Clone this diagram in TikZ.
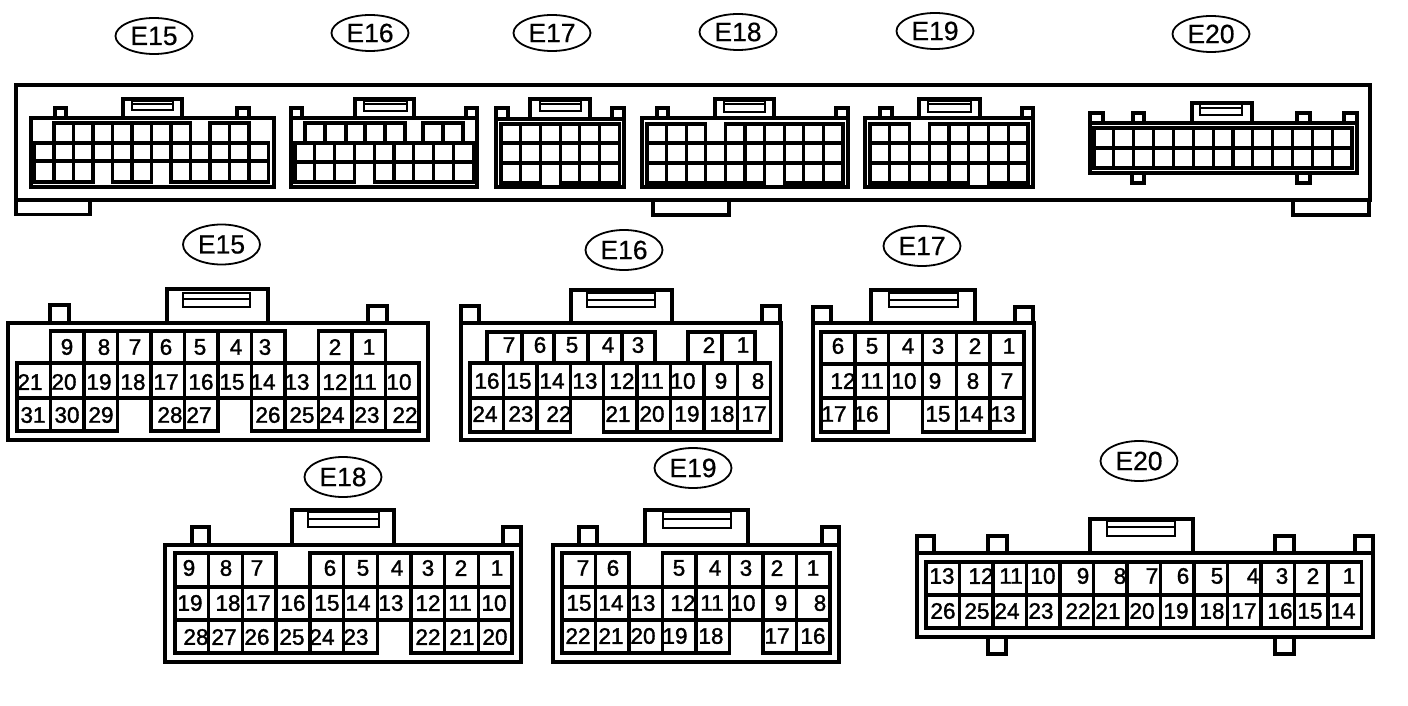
\documentclass[tikz,border=0pt]{standalone}
\usepackage{fontspec}
\setmainfont{Liberation Sans}
\newfontfamily\numfont[FakeBold=1.5]{Liberation Sans}
\newfontfamily\tagfont[FakeBold=0.5]{Liberation Sans}
\tikzset{
  num/.style={inner sep=0pt,font=\numfont\fontsize{22.5}{22.5}\selectfont},
  tag/.style={ellipse,draw=black,line width=1.8pt,inner sep=0pt,minimum width=77pt,minimum height=36pt,font=\tagfont\fontsize{26.5}{26.5}\selectfont},
  house/.style={draw=black,line width=3.4pt,line join=miter},
  cellb/.style={draw=black,line width=3.4pt},
  cellm/.style={draw=black,line width=3.2pt},
  slotb/.style={draw=black,line width=2.8pt},
  panel/.style={draw=black,line width=3.2pt},
}
\usetikzlibrary{shapes.geometric}
% cells: style, x0, pitch, ytop, ybot, list of columns
\newcommand\cellrun[6]{\foreach \c in {#6}{\draw[#1] ({#2+\c*#3},#4) rectangle ({#2+(\c+1)*#3},#5);}}
% explicit cell edges: style, ytop, ybot, list of xa/xb
\newcommand\celledge[4]{\foreach \a/\b in {#4}{\draw[#1] (\a,#2) rectangle (\b,#3);}}
% bump open at its base: x1,x2,ybase,ytop
\newcommand\bump[5][house]{\draw[#1] (#2,#4) -- (#2,#5) -- (#3,#5) -- (#3,#4);}
% slot: xa,xb,ytop,ymid,ybot
\newcommand\slotbox[6][slotb]{\draw[#1] (#2,#4) rectangle (#3,#6); \draw[#1] (#2,#5) -- (#3,#5);}
% labels: name prefix, y, list of x/text
\newcommand\labelrow[3]{\foreach \x/\t in {#3}{\node[num] (#1-\t) at (\x,#2) {\t};}}
\begin{document}
\begin{tikzpicture}[x=1pt,y=-1pt]
\useasboundingbox (0,0) rectangle (1408,706);
\fill[white] (0,0) rectangle (1408,706);

% ---- top panel
\draw[panel] (16,85) rectangle (1370,200);
\draw[panel] (16,200) -- (16,214.5) -- (90,214.5) -- (90,200);
\draw[panel] (653,200) -- (653,215) -- (729,215) -- (729,200);
\draw[panel] (1293,200) -- (1293,215) -- (1369,215) -- (1369,200);

% ---- top tags
\node[tag] (tE15) at (154,36) {E15};
\node[tag] (tE16) at (370,33) {E16};
\node[tag] (tE17) at (552,33) {E17};
\node[tag] (tE18) at (738,32) {E18};
\node[tag] (tE19) at (935,31) {E19};
\node[tag] (tE20) at (1211,34) {E20};

% ---- mini E15
\draw[house] (31,118) rectangle (274,187);
\bump{55}{66}{118}{108}\bump{237}{249}{118}{108}\bump{123}{182}{118}{99}
\slotbox{132}{173}{101}{104}{110}
\cellrun{cellm}{34.4}{19.5}{123}{143}{1,2,3,4,5,6,7,9,10}
\cellrun{cellm}{34.4}{19.5}{143}{161}{0,1,2,3,4,5,6,7,8,9,10,11}
\cellrun{cellm}{34.4}{19.5}{161}{182}{0,1,2,4,5,7,8,9,10,11}

% ---- mini E16
\draw[house] (291,118) rectangle (477,187);
\bump{291}{302}{118}{108}\bump{466}{477}{118}{108}\bump{355}{414}{118}{99}
\slotbox{364}{407}{101}{104}{111}
\celledge{cellm}{123}{143}{305/325,325/346,346/365,365/385,385/405,423/443,443/463}
\cellrun{cellm}{295}{19.8}{143}{162}{0,1,2,3,4,5,6,7,8}
\cellrun{cellm}{295}{19.8}{162}{182}{0,1,2,4,5,6,7,8}

% ---- mini E17
\draw[house] (496,119) rectangle (624,187);
\bump{496}{508}{119}{108}\bump{612}{624}{119}{108}\bump{530}{590}{119}{99}
\slotbox{540}{581}{101}{104}{111}
\cellrun{cellm}{501}{19.7}{124}{143}{0,1,2,3,4,5}
\cellrun{cellm}{501}{19.7}{143}{163}{0,1,2,3,4,5}
\cellrun{cellm}{501}{19.7}{163}{183}{0,1,3,4,5}

% ---- mini E18
\draw[house] (642,118) rectangle (848,187);
\bump{657}{668}{118}{108}\bump{836}{848}{118}{108}\bump{715}{774}{118}{99}
\slotbox{724}{765}{101}{104}{112}
\cellrun{cellm}{647}{19.6}{124}{143}{0,1,2,4,5,6,7,8,9}
\cellrun{cellm}{647}{19.6}{143}{163}{0,1,2,3,4,5,6,7,8,9}
\cellrun{cellm}{647}{19.6}{163}{183}{0,1,2,3,4,5,7,8,9}

% ---- mini E19
\draw[house] (865,118) rectangle (1033,187);
\bump{880}{892}{118}{108}\bump{1022}{1033}{118}{108}\bump{919}{980}{118}{99}
\slotbox{928}{971}{101}{104}{112}
\cellrun{cellm}{870}{19.75}{124}{143}{0,1,3,4,5,6,7}
\cellrun{cellm}{870}{19.75}{143}{163}{0,1,2,3,4,5,6,7}
\cellrun{cellm}{870}{19.75}{163}{183}{0,1,2,3,4,6,7}

% ---- mini E20
\draw[house] (1090,123) rectangle (1357,173);
\bump{1090}{1103}{123}{113}\bump{1133}{1144}{123}{113}\bump{1297}{1310}{123}{113}\bump{1344}{1357}{123}{113}
\bump{1132}{1144}{173}{183}\draw[house] (1132,183) -- (1144,183);
\bump{1297}{1310}{173}{183}
\bump{1192}{1252}{123}{103}
\slotbox{1200}{1242}{104}{108}{115}
\cellrun{cellm}{1094}{19.85}{128}{148}{0,1,2,3,4,5,6,7,8,9,10,11,12}
\cellrun{cellm}{1094}{19.85}{148}{168}{0,1,2,3,4,5,6,7,8,9,10,11,12}

% ---- E15 large
\node[tag,minimum height=40pt] (bE15) at (221.5,244.5) {E15};
\draw[house] (8,323) rectangle (428,440);
\bump{50}{69}{323}{305}\bump{368}{387}{323}{306}\bump{167}{268}{323}{289}
\slotbox{183}{250}{293}{299}{307}
\cellrun{cellb}{17}{33.5}{331}{363}{1,2,3,4,5,6,7,9,10}
\cellrun{cellb}{17}{33.5}{363}{398}{0,1,2,3,4,5,6,7,8,9,10,11}
\cellrun{cellb}{17}{33.5}{398}{431}{0,1,2,4,5,7,8,9,10,11}
\labelrow{a}{347}{67/9,104/8,135/7,166/6,200/5,236/4,265/3,335/2,369/1}
\labelrow{a}{382}{30/21,64/20,99/19,133/18,166/17,201/16,232/15,263/14,297/13,335/12,365/11,399/10}
\labelrow{a}{415}{33/31,67/30,101/29,170/28,199/27,268/26,302/25,332/24,367/23,405/22}

% ---- E16 large
\node[tag,minimum height=40pt] (bE16) at (624,250) {E16};
\draw[house] (461,323) rectangle (781,440);
\bump{461}{479}{323}{306}\bump{762}{780}{323}{306}\bump{571}{672}{323}{290}
\slotbox{587}{655}{293}{300}{307}
\celledge{cellb}{332}{363}{487/522,522/554,554/588,588/622,622/655,688/722,722/755}
\cellrun{cellb}{470}{33.4}{363}{398}{0,1,2,3,4,5,6,7,8}
\cellrun{cellb}{470}{33.4}{398}{432}{0,1,2,4,5,6,7,8}
\labelrow{b}{345}{509/7,540/6,572/5,608/4,638/3,709/2,743/1}
\labelrow{b}{381}{487/16,519/15,552/14,585/13,622/12,652/11,683/10,721/9,758/8}
\labelrow{b}{414}{485/24,521/23,559/22,618/21,652/20,687/19,722/18,754/17}

% ---- E17 large
\node[tag,minimum height=40pt] (bE17) at (922,246) {E17};
\draw[house] (813,323) rectangle (1034,440);
\bump{813}{831}{323}{307}\bump{1015}{1033}{323}{307}\bump{871}{975}{323}{290}
\slotbox{889}{958}{293}{300}{307}
\cellrun{cellb}{821}{33.8}{332}{364}{0,1,2,3,4,5}
\cellrun{cellb}{821}{33.8}{364}{398}{0,1,2,3,4,5}
\cellrun{cellb}{821}{33.8}{398}{432}{0,1,3,4,5}
\labelrow{c}{346}{838/6,872/5,908/4,938/3,975/2,1009/1}
\labelrow{c}{381}{843/12,872/11,904/10,935/9,973/8,1007/7}
\labelrow{c}{414}{834/17,866/16,938/15,971/14,1003/13}

% ---- E18 large
\node[tag,minimum height=40pt] (bE18) at (343,477) {E18};
\draw[house] (165,545) rectangle (521,662);
\bump{192}{209}{545}{527}\bump{503}{521}{545}{527}\bump{292}{394}{545}{510}
\slotbox{308}{379}{512}{519}{527}
\cellrun{cellb}{175}{33.7}{553}{587}{0,1,2,4,5,6,7,8,9}
\cellrun{cellb}{175}{33.7}{587}{620}{0,1,2,3,4,5,6,7,8,9}
\cellrun{cellb}{175}{33.7}{620}{653}{0,1,2,3,4,5,7,8,9}
\labelrow{d}{568}{189/9,226/8,257/7,330/6,363/5,397/4,428/3,461/2,497/1}
\labelrow{d}{603}{190/19,228/18,258/17,293/16,327/15,358/14,391/13,428/12,460/11,494/10}
\labelrow{d}{637}{196/28,224/27,257/26,292/25,322/24,356/23,428/22,462/21,495/20}

% ---- E19 large
\node[tag,minimum height=40pt] (bE19) at (693,468) {E19};
\draw[house] (553,545) rectangle (839,662);
\bump{579}{597}{545}{527}\bump{822}{839}{545}{527}\bump{645}{748}{545}{510}
\slotbox{663}{731}{512}{519}{528}
\cellrun{cellb}{562}{33.5}{553}{587}{0,1,3,4,5,6,7}
\cellrun{cellb}{562}{33.5}{587}{620}{0,1,2,3,4,5,6,7}
\cellrun{cellb}{562}{33.5}{620}{653}{0,1,2,3,4,6,7}
\labelrow{e}{568}{583/7,613/6,679/5,715/4,746/3,777/2,813/1}
\labelrow{e}{603}{579/15,611/14,643/13,683/12,712/11,743/10,781/9,820/8}
\labelrow{e}{636}{578/22,611/21,643/20,675/19,711/18,777/17,813/16}

% ---- E20 large
\node[tag,minimum height=40pt] (bE20) at (1139,461) {E20};
\draw[house] (917,553) rectangle (1373,637);
\bump{917}{934}{553}{536}\bump{988}{1007}{553}{536}\bump{1275}{1294}{553}{536}\bump{1355}{1373}{553}{536}
\bump{988}{1006}{637}{654}\draw[house] (988,654) -- (1006,654);
\bump{1275}{1294}{637}{654}
\bump{1090}{1193}{553}{519}
\slotbox{1107}{1175}{521}{527}{536}
\cellrun{cellb}{926}{33.5}{562}{595}{0,1,2,3,4,5,6,7,8,9,10,11,12}
\cellrun{cellb}{926}{33.5}{595}{628}{0,1,2,3,4,5,6,7,8,9,10,11,12}
\labelrow{f}{576}{942/13,981/12,1011/11,1043/10,1083/9,1120/8,1152/7,1183/6,1217/5,1253/4,1282/3,1313/2,1349/1}
\labelrow{f}{611}{943/26,977/25,1007/24,1041/23,1078/22,1108/21,1142/20,1176/19,1212/18,1244/17,1280/16,1310/15,1343/14}
\end{tikzpicture}
\end{document}
